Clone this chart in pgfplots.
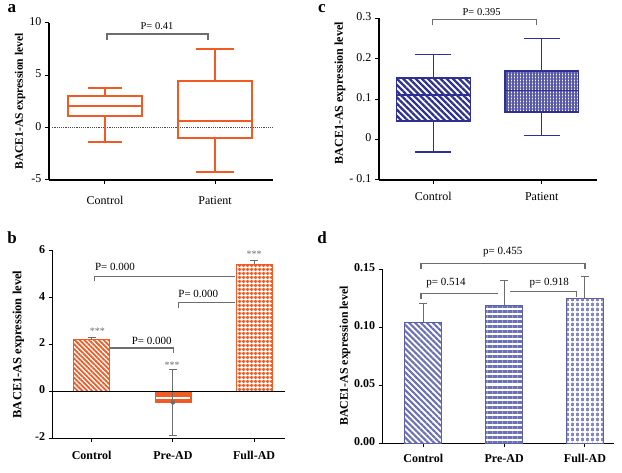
\documentclass[border=0pt]{standalone}
\usepackage{fontspec}
\setmainfont{Liberation Serif}
\usepackage{pgfplots}
\pgfplotsset{compat=1.18}
\usepgfplotslibrary{statistics}
\usetikzlibrary{patterns.meta}

\definecolor{orng}{HTML}{F05A24}
\definecolor{navy}{HTML}{2E3192}
\definecolor{dblue}{HTML}{5C60AC}
\definecolor{brk}{HTML}{6D6D6D}

\tikzset{brkt/.style={brk, line width=1.2pt}}
\pgfplotsset{
  panel/.style={
    scale only axis, anchor=south west, clip=false,
    axis x line*=bottom, axis y line*=left,
    axis line style={line width=1.1pt,-},
    tick style={line width=1pt, black},
    tick align=outside, major tick length=4pt, minor tick num=0,
    /pgf/number format/assume math mode=true,
    typeset ticklabels with strut,
    ylabel={BACE1-AS expression level},
    ylabel style={at={(rel axis cs:0,0.5)}, anchor=center, font=\bfseries\fontsize{12}{12}\selectfont},
    boxplot/draw direction=y,
  },
}

\begin{document}
\begin{tikzpicture}
\useasboundingbox (0pt,0pt) rectangle (622pt,472pt);

% ---------------- panel a ----------------
\begin{axis}[panel, at={(49pt,292pt)}, width=224pt, height=157pt,
  xmin=0.491, xmax=2.527, ymin=-5, ymax=10,
  ytick={-5,0,5,10}, xtick={1,2}, xticklabels={Control,Patient},
  tick label style={font=\fontsize{12}{12}\selectfont},
  xticklabel style={yshift=-9pt},
  ylabel style={yshift=29pt, font=\bfseries\fontsize{11.5}{12}\selectfont}]
\addplot[densely dotted, line width=1.2pt, gray!60!black] coordinates {(0.52,0) (2.527,0)};
\addplot[orng, line width=2pt, boxplot prepared={draw position=1, median=2.05,
  upper quartile=3.0, lower quartile=1.15, upper whisker=3.8, lower whisker=-1.35,
  box extend=0.68, whisker extend=0.3}] coordinates {};
\addplot[orng, line width=2pt, boxplot prepared={draw position=2, median=0.65,
  upper quartile=4.5, lower quartile=-0.95, upper whisker=7.5, lower whisker=-4.2,
  box extend=0.68, whisker extend=0.34}] coordinates {};
\draw[brkt] (axis cs:1.018,8.4) -- (axis cs:1.018,8.95) -- (axis cs:1.936,8.95) -- (axis cs:1.936,8.4);
\node[font=\fontsize{10.5}{10.5}\selectfont] at (axis cs:1.473,9.74) {P= 0.41};
\end{axis}

% ---------------- panel c ----------------
\begin{axis}[panel, at={(379pt,292pt)}, width=218pt, height=161.7pt,
  xmin=0.499, xmax=2.51, ymin=-0.1, ymax=0.3,
  ytick={-0.1,0,0.1,0.2,0.3}, yticklabels={- 0.1,0,0.1,0.2,0.3},
  xtick={1,2}, xticklabels={Control,Patient},
  tick label style={font=\fontsize{12}{12}\selectfont},
  xticklabel style={yshift=-5pt},
  ylabel style={yshift=39pt, xshift=6pt, font=\bfseries\fontsize{12}{12}\selectfont}]
\addplot[navy, line width=1.3pt, boxplot prepared={draw position=1, median=0.11,
  upper quartile=0.152, lower quartile=0.046, upper whisker=0.211, lower whisker=-0.031,
  box extend=0.68, whisker extend=0.33},
  boxplot/every box/.style={pattern={Lines[angle=-45,distance=4.4pt,line width=2.3pt]}, pattern color=navy}] coordinates {};
\addplot[navy, line width=1.3pt, boxplot prepared={draw position=2, median=0.121,
  upper quartile=0.17, lower quartile=0.068, upper whisker=0.25, lower whisker=0.01,
  box extend=0.68, whisker extend=0.33},
  boxplot/every box/.style={pattern={Hatch[distance=3pt,line width=1.7pt]}, pattern color=navy!80}] coordinates {};
\draw[brkt] (axis cs:0.995,0.283) -- (axis cs:0.995,0.297) -- (axis cs:1.954,0.297) -- (axis cs:1.954,0.283);
\node[font=\fontsize{10.5}{10.5}\selectfont] at (axis cs:1.446,0.316) {P= 0.395};
\end{axis}

% ---------------- panel b ----------------
\begin{axis}[panel, at={(52.7pt,33.7pt)}, width=232.3pt, height=187.6pt,
  xmin=0.52, xmax=3.38, ymin=-2, ymax=6,
  ytick={-2,0,2,4,6}, xtick={1,2,3}, xticklabels={Control,Pre-AD,Full-AD},
  tick label style={font=\bfseries\fontsize{12}{12}\selectfont},
  xticklabel style={yshift=-5pt},
  ylabel style={yshift=34.4pt, font=\bfseries\fontsize{12.5}{12}\selectfont},
  error bars/error bar style={brk, line width=1pt},
  error bars/error mark options={brk, rotate=90, mark size=4pt, line width=1pt}]
\addplot[ybar, bar width=36pt, bar shift=0pt, draw=orng, line width=0.8pt,
  pattern={Lines[angle=-45,distance=3.4pt,line width=1.8pt]}, pattern color=orng,
  error bars/.cd, y dir=plus, y explicit] coordinates {(1,2.2) +- (0,0.1)};
\addplot[ybar, bar width=36pt, bar shift=0pt, draw=orng, line width=0.8pt, fill=orng]
  coordinates {(2,-0.47)};
\draw[white, line width=2.2pt] (axis cs:1.79,-0.27) -- (axis cs:2.21,-0.27);
\addplot[ybar, bar width=36pt, bar shift=0pt, draw=orng, line width=0.8pt,
  pattern={Hatch[distance=4pt,line width=2pt]}, pattern color=orng,
  error bars/.cd, y dir=plus, y explicit] coordinates {(3,5.43) +- (0,0.17)};
\addplot[brk, only marks, mark=none, error bars/.cd, y dir=both, y explicit]
  coordinates {(2,-0.47) +- (0,1.42)};
\addplot[black, line width=1.1pt] coordinates {(0.52,0) (3.38,0)};
\node[brk, font=\fontsize{10}{10}\selectfont] at (axis cs:1.07,2.55) {***};
\node[brk, font=\fontsize{10}{10}\selectfont] at (axis cs:1.99,1.13) {***};
\node[brk, font=\fontsize{10}{10}\selectfont] at (axis cs:3.0,5.84) {***};
\draw[brkt] (axis cs:1.03,4.69) -- (axis cs:1.03,4.9) -- (axis cs:2.766,4.9);
\node[font=\fontsize{11}{11}\selectfont] at (axis cs:1.287,5.29) {P= 0.000};
\draw[brkt] (axis cs:2.067,3.55) -- (axis cs:2.067,3.79) -- (axis cs:2.766,3.79);
\node[font=\fontsize{11}{11}\selectfont] at (axis cs:2.313,4.16) {P= 0.000};
\draw[brkt] (axis cs:1.225,1.85) -- (axis cs:2.006,1.85) -- (axis cs:2.006,1.64);
\node[font=\fontsize{11}{11}\selectfont] at (axis cs:1.739,2.16) {P= 0.000};
\end{axis}

% ---------------- panel d ----------------
\begin{axis}[panel, at={(382.7pt,28.7pt)}, width=231.3pt, height=174.3pt,
  xmin=0.498, xmax=3.359, ymin=0, ymax=0.15,
  ytick={0,0.05,0.10,0.15}, xtick={1,2,3}, xticklabels={Control,Pre-AD,Full-AD},
  yticklabel style={/pgf/number format/.cd, fixed, fixed zerofill, precision=2},
  tick label style={font=\bfseries\fontsize{12}{12}\selectfont},
  xticklabel style={yshift=-3pt},
  ylabel style={yshift=37.7pt, font=\bfseries\fontsize{11.8}{12}\selectfont},
  error bars/error bar style={brk, line width=1pt},
  error bars/error mark options={brk, rotate=90, mark size=4pt, line width=1pt}]
\addplot[ybar, bar width=37pt, bar shift=0pt, draw=dblue, line width=1.1pt,
  pattern={Lines[angle=-45,distance=4.2pt,line width=2.1pt]}, pattern color=dblue!90,
  error bars/.cd, y dir=plus, y explicit] coordinates {(1,0.104) +- (0,0.016)};
\addplot[ybar, bar width=37pt, bar shift=0pt, draw=dblue, line width=1.1pt,
  pattern={Lines[angle=0,distance=5pt,line width=3pt]}, pattern color=dblue!90,
  error bars/.cd, y dir=plus, y explicit] coordinates {(2,0.1188) +- (0,0.0211)};
\addplot[ybar, bar width=37pt, bar shift=0pt, draw=dblue, line width=1.1pt,
  fill=dblue!75, postaction={pattern={Hatch[distance=5pt,line width=1.5pt]}, pattern color=white},
  error bars/.cd, y dir=plus, y explicit] coordinates {(3,0.1246) +- (0,0.0193)};
\draw[brkt] (axis cs:0.972,0.1497) -- (axis cs:0.972,0.1549) -- (axis cs:3.0,0.1549) -- (axis cs:3.0,0.1497);
\node[font=\fontsize{11}{11}\selectfont] at (axis cs:1.982,0.1644) {p= 0.455};
\draw[brkt] (axis cs:0.972,0.124) -- (axis cs:0.972,0.129) -- (axis cs:1.93,0.129);
\node[font=\fontsize{11}{11}\selectfont] at (axis cs:1.28,0.1377) {p= 0.514};
\draw[brkt] (axis cs:2.07,0.1305) -- (axis cs:2.897,0.1305) -- (axis cs:2.897,0.1255);
\node[font=\fontsize{11}{11}\selectfont] at (axis cs:2.558,0.1377) {p= 0.918};
\end{axis}

% panel letters
\node[font=\bfseries\fontsize{17}{17}\selectfont] at (12pt,463pt) {a};
\node[font=\bfseries\fontsize{17}{17}\selectfont] at (322pt,463pt) {c};
\node[font=\bfseries\fontsize{17}{17}\selectfont] at (12pt,234pt) {b};
\node[font=\bfseries\fontsize{17}{17}\selectfont] at (322pt,234pt) {d};
\end{tikzpicture}
\end{document}
